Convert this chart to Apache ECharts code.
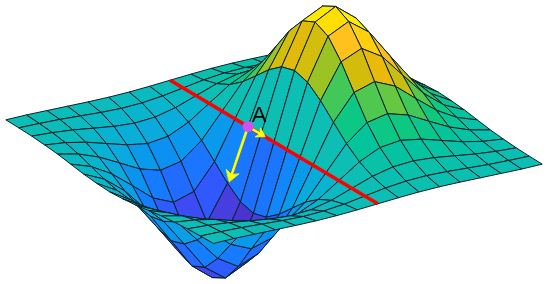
<!DOCTYPE html>
<html>
<head>
<meta charset="utf-8">
<style>html, body { margin: 0; background: #fff; } #main { width: 550px; height: 284px; }</style>
<script src="https://cdn.jsdelivr.net/npm/echarts@6/dist/echarts.min.js"></script>
</head>
<body>
<div id="main"></div>
<script>
// surface heights, one row per x
const xValues = [-2, -1.75, -1.5, -1.25, -1, -0.75, -0.5, -0.25, 0, 0.25, 0.5, 0.75, 1, 1.25, 1.5, 1.75, 2];
const yValues = [-2, -1.75, -1.5, -1.25, -1, -0.75, -0.5, -0.25, 0, 0.25, 0.5, 0.75, 1, 1.25, 1.5, 1.75, 2];
const heights = [
	[-.001, -.002, -.004, -.008, -.013, -.021, -.029, -.034, -.037, -.034, -.029, -.021, -.013, -.008, -.004, -.002, -.001],
	[-.001, -.004, -.009, -.017, -.030, -.047, -.064, -.077, -.082, -.077, -.064, -.047, -.030, -.017, -.009, -.004, -.001],
	[-.003, -.007, -.017, -.033, -.058, -.090, -.123, -.149, -.158, -.149, -.123, -.090, -.058, -.033, -.017, -.007, -.003],
	[-.005, -.012, -.028, -.055, -.096, -.149, -.204, -.246, -.262, -.246, -.204, -.149, -.096, -.055, -.028, -.012, -.005],
	[-.007, -.017, -.039, -.077, -.135, -.210, -.287, -.346, -.368, -.346, -.287, -.210, -.135, -.077, -.039, -.017, -.007],
	[-.008, -.020, -.045, -.090, -.157, -.243, -.333, -.401, -.427, -.401, -.333, -.243, -.157, -.090, -.045, -.020, -.008],
	[-.007, -.018, -.041, -.082, -.143, -.222, -.303, -.366, -.389, -.366, -.303, -.222, -.143, -.082, -.041, -.018, -.007],
	[-.004, -.011, -.025, -.049, -.086, -.134, -.183, -.221, -.235, -.221, -.183, -.134, -.086, -.049, -.025, -.011, -.004],
	[0, 0, 0, 0, 0, 0, 0, 0, 0, 0, 0, 0, 0, 0, 0, 0, 0],
	[.004, .011, .025, .049, .086, .134, .183, .221, .235, .221, .183, .134, .086, .049, .025, .011, .004],
	[.007, .018, .041, .082, .143, .222, .303, .366, .389, .366, .303, .222, .143, .082, .041, .018, .007],
	[.008, .020, .045, .090, .157, .243, .333, .401, .427, .401, .333, .243, .157, .090, .045, .020, .008],
	[.007, .017, .039, .077, .135, .210, .287, .346, .368, .346, .287, .210, .135, .077, .039, .017, .007],
	[.005, .012, .028, .055, .096, .149, .204, .246, .262, .246, .204, .149, .096, .055, .028, .012, .005],
	[.003, .007, .017, .033, .058, .090, .123, .149, .158, .149, .123, .090, .058, .033, .017, .007, .003],
	[.001, .004, .009, .017, .030, .047, .064, .077, .082, .077, .064, .047, .030, .017, .009, .004, .001],
	[.001, .002, .004, .008, .013, .021, .029, .034, .037, .034, .029, .021, .013, .008, .004, .002, .001]
];
// colours from z = -0.45 to 0.45, every 0.05
const colorScale = ['#4a24b0', '#4c30c8', '#4444ec', '#3058ff', '#2468ff', '#1480ff', '#0a94f0', '#0aa8e0', '#08b4d0',
	'#0cbeb4', '#04c49c', '#10c87a', '#58c848', '#bcc010', '#f2b80a', '#ffc020', '#ffd800', '#ffee00', '#ffff00'];
// line across the surface, point A and the two arrows, as [x, y, z]
const ridgeLine = [[0, -2, 0], [0, 2, 0]];
const pointA = [0, -0.5, 0];
const arrowTips = [[0, -0.17, 0], [-0.231, -0.5, -0.18]];
const headSizes = [10, 13];

// orthographic view of the box, result is in axis units
function project(p) {
	return [
		82.2 * p[0] + 51.9 * p[1],
		19.68 * p[0] - 30.9 * p[1] + 283 * p[2]
	];
}

const cells = [];
// back to front, so nearer cells paint over farther ones
for (let i = xValues.length - 2; i >= 0; i--) {
	for (let j = 0; j < yValues.length - 1; j++) {
		cells.push([i, j, heights[i][j + 1]]);
	}
}

function renderCell(params, api) {
	const i = api.value(0), j = api.value(1);
	const corners = [[i, j], [i + 1, j], [i + 1, j + 1], [i, j + 1]].map(c =>
		api.coord(project([xValues[c[0]], yValues[c[1]], heights[c[0]][c[1]]])));
	return {
		type: 'polygon',
		shape: { points: corners },
		style: { fill: api.visual('color'), stroke: '#082028', lineWidth: 1, lineJoin: 'round' }
	};
}

function renderArrow(params, api) {
	const from = api.coord(project(pointA));
	const to = api.coord(project(arrowTips[params.dataIndex]));
	const size = headSizes[params.dataIndex];
	const angle = Math.atan2(from[1] - to[1], from[0] - to[0]);
	const back = (len, a) => [to[0] + len * Math.cos(angle + a), to[1] + len * Math.sin(angle + a)];
	return {
		type: 'group',
		children: [
			{
				type: 'polyline',
				shape: { points: [from, back(4, 0)] },
				style: { stroke: '#ffff00', fill: null, lineWidth: 2.6 }
			},
			{
				// barbed head, notched at the back
				type: 'polygon',
				shape: { points: [to, back(size, 0.55), back(size * 0.6, 0), back(size, -0.55)] },
				style: { fill: '#ffff00', stroke: '#ffff00', lineWidth: 0.8 }
			}
		]
	};
}

const myChart = echarts.init(document.getElementById('main'), null, { renderer: 'canvas' });
myChart.setOption({
	animation: false,
	grid: { left: 0, right: 0, top: 0, bottom: 0 },
	xAxis: { type: 'value', min: -274, max: 276, show: false },
	yAxis: { type: 'value', min: -142, max: 142, show: false },
	visualMap: {
		show: false,
		type: 'continuous',
		seriesIndex: 0,
		dimension: 2,
		min: -0.45,
		max: 0.45,
		inRange: { color: colorScale }
	},
	series: [
		{
			type: 'custom',
			data: cells,
			renderItem: renderCell,
			clip: false,
			z: 1
		},
		{
			type: 'line',
			data: ridgeLine.map(project),
			showSymbol: false,
			lineStyle: { color: '#ff0000', width: 3.6, cap: 'butt' },
			z: 2
		},
		{
			type: 'custom',
			data: arrowTips.map(project),
			renderItem: renderArrow,
			clip: false,
			z: 3
		},
		{
			type: 'scatter',
			data: [project(pointA)],
			symbolSize: 11,
			itemStyle: { color: '#d050f0', opacity: 1 },
			label: {
				show: true,
				formatter: 'A',
				position: 'top',
				offset: [11, 11],
				fontFamily: 'Liberation Sans',
				fontSize: 22,
				color: '#000'
			},
			z: 10
		}
	]
});
</script>
</body>
</html>
